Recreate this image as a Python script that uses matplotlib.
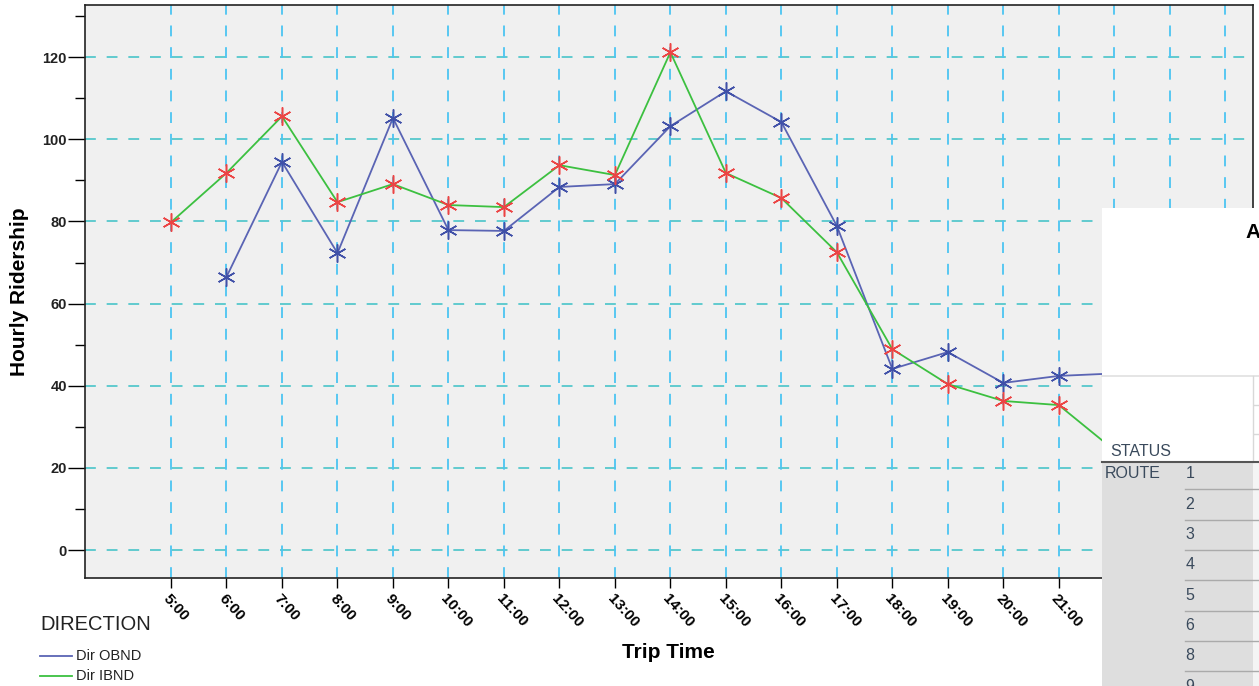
import matplotlib.pyplot as plt
from matplotlib.lines import Line2D
from matplotlib.patches import Rectangle

plt.rcParams['font.family'] = ['Liberation Sans', 'DejaVu Sans']

# data
hours = [5, 6, 7, 8, 9, 10, 11, 12, 13, 14, 15, 16, 17, 18, 19, 20, 21, 22]
hour_labels = [f"{h}:00" for h in range(5, 24)]
obnd_hours = [6, 7, 8, 9, 10, 11, 12, 13, 14, 15, 16, 17, 18, 19, 20, 21, 22]
obnd = [66.5, 94.5, 72.3, 105.2, 77.9, 77.7, 88.4, 89.1, 103.2, 111.7, 104.2, 78.9, 44.1, 48.2, 40.7, 42.4, 43.0]
ibnd = [79.8, 91.8, 105.6, 84.7, 89.1, 84.0, 83.5, 93.7, 91.3, 121.2, 91.8, 85.7, 72.5, 48.9, 40.4, 36.3, 35.3, 24.3]
route_rows = ["1", "2", "3", "4", "5", "6", "8", "9"]

W, H = 1259, 686


def px(x, y):
    return x / W, 1 - y / H


fig = plt.figure(figsize=(W / 100, H / 100), dpi=100)
ax = fig.add_axes([85 / W, 1 - 578 / H, (1253 - 85) / W, (578 - 5) / H])
ax.set_facecolor('#f0f0f0')

ax.set_xlim(3.45, 24.5)
ax.set_ylim(-6.8, 132.7)

# grid
for y in range(0, 121, 20):
    ax.axhline(y, color='#55c8cc', lw=1.3, ls=(0, (6, 6)), zorder=1)
for h in range(5, 25):
    ax.axvline(h, color='#4cc4f2', lw=1.3, ls=(0, (6, 6)), zorder=1)

ax.plot(obnd_hours, obnd, color='#5a64b4', lw=1.3, zorder=3,
        marker=(6, 2, 0), ms=13, mec='#4050a8', mew=1.1)
ax.plot(hours, ibnd, color='#3cc040', lw=1.3, zorder=3,
        marker=(6, 2, 0), ms=13, mec='#ec4444', mew=1.1)

ax.set_yticks(range(0, 121, 20))
ax.set_yticks(range(10, 131, 20), minor=True)
ax.tick_params(axis='y', which='major', length=12, width=1, labelsize=10.5, pad=1)
ax.tick_params(axis='y', which='minor', length=7, width=1)
for lbl in ax.get_yticklabels():
    lbl.set_fontweight('bold')
    lbl.set_color('#222222')

ax.set_xticks(range(5, 24))
ax.set_xticklabels(hour_labels, rotation=-48, ha='left', va='top',
                   rotation_mode='anchor', fontsize=11, fontweight='bold')
ax.tick_params(axis='x', length=7, width=1, pad=3)

for side in ['left', 'bottom', 'top', 'right']:
    ax.spines[side].set_color('#222222')
    ax.spines[side].set_linewidth(1.2)

ax.set_ylabel("Hourly Ridership", fontsize=15, fontweight='bold', labelpad=10)
fig.text(*px(668, 653), "Trip Time", fontsize=15, fontweight='bold',
         ha='center', va='center')

# legend
fig.text(*px(40, 625), "DIRECTION", fontsize=14.5, ha='left', va='center', color='#222222')
fig.add_artist(Line2D([40 / W, 72 / W], [1 - 656 / H] * 2, color='#5a64b4', lw=1.3))
fig.add_artist(Line2D([40 / W, 72 / W], [1 - 676 / H] * 2, color='#3cc040', lw=1.3))
fig.text(*px(76, 656), "Dir OBND", fontsize=10.5, ha='left', va='center', color='#222222')
fig.text(*px(76, 676), "Dir IBND", fontsize=10.5, ha='left', va='center', color='#222222')

# overlapping window panel on the right
fig.add_artist(Rectangle(px(1102, 686), 157 / W, (686 - 208) / H,
                         facecolor='white', edgecolor='none', zorder=10))
fig.add_artist(Rectangle(px(1102, 686), 151 / W, (686 - 462) / H,
                         facecolor='#dedede', edgecolor='none', zorder=11))
fig.add_artist(Rectangle(px(1253, 686), 6 / W, (686 - 462) / H,
                         facecolor='#f4f4f4', edgecolor='none', zorder=11))
fig.add_artist(Line2D([1102 / W, 1 / 1], [1 - 376 / H] * 2, color='#e0e0e0', lw=1.2, zorder=12))
fig.add_artist(Line2D([1253 / W] * 2, [1 - 376 / H, 1 - 462 / H], color='#d8d8d8', lw=1, zorder=12))
for yy in [405, 434]:
    fig.add_artist(Line2D([1254 / W, 1], [1 - yy / H] * 2, color='#d8d8d8', lw=1, zorder=12))
fig.add_artist(Line2D([1102 / W, 1], [1 - 462 / H] * 2, color='#555555', lw=1.5, zorder=12))
fig.text(*px(1245, 232), "A", fontsize=15, fontweight='bold', ha='left', va='center', zorder=13)
fig.text(*px(1110, 451), "STATUS", fontsize=11.5, ha='left', va='center', color='#3a4a5c', zorder=13)
fig.text(*px(1105, 474), "ROUTE", fontsize=11.5, ha='left', va='center', color='#3a4a5c', zorder=13)
for i, r in enumerate(route_rows):
    yy = 474 + i * 30.3
    fig.text(*px(1190, yy), r, fontsize=11.5, ha='center', va='center', color='#3a4a5c', zorder=13)
    if i > 0:
        fig.add_artist(Line2D([1185 / W, 1], [1 - (yy - 15) / H] * 2,
                              color='#aaaaaa', lw=1, zorder=12))

plt.savefig("out.png", dpi=100)
